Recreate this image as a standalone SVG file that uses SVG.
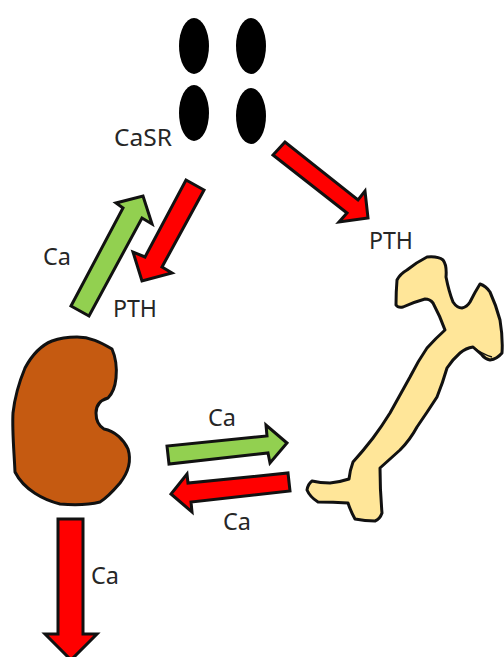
<svg xmlns="http://www.w3.org/2000/svg" width="504" height="657" viewBox="0 0 504 657">
<style>
.lbl{font-family:"Noto Sans",sans-serif;font-size:23px;fill:#262626}
.out{stroke:#111;stroke-width:3;stroke-linejoin:round;stroke-linecap:round}
.arrow{stroke:#111;stroke-width:3;stroke-linejoin:miter}
.red{fill:#ff0000}
.green{fill:#92d050}
.cell{fill:#000}
</style>
<rect width="504" height="657" fill="#fff"/>
<g id="parathyroid">
<ellipse class="cell" cx="194" cy="46" rx="15" ry="28"/>
<ellipse class="cell" cx="251" cy="46" rx="15" ry="28"/>
<ellipse class="cell" cx="194" cy="113" rx="15" ry="28"/>
<ellipse class="cell" cx="251" cy="116" rx="15" ry="28"/>
<text class="lbl" x="114" y="146" textLength="58" lengthAdjust="spacingAndGlyphs">CaSR</text>
</g>
<g id="kidney">
<path class="out" fill="#c55a11" d="M77 337C90 337 100 342 112 349C116 358 117 368 116 378C115 388 112 394 108 398C101 400 96 405 96 413C96 422 99 426 104 429C115 431 124 440 128 449C132 462 127 474 120 483C114 490 108 497 100 502C88 505 72 505 60 504C44 500 24 490 15 472C14 450 12 430 13 413C15 395 20 380 25 368C32 355 42 345 52 341C60 338 68 337 77 337Z"/>
</g>
<g id="bone">
<path class="out" fill="#ffe699" d="M427 257Q438 256 443 260Q447 265 446 277Q449 292 453 302Q457 308 462 308Q467 307 470 302Q475 292 480 284Q486 286 490 292Q496 305 500 320Q503 338 502 353Q497 359 490 360Q485 359 482 355L473 347Q466 348 460 353Q453 359 447 368Q443 382 437 397Q428 411 417 427Q410 440 400 450Q390 459 380 468Q380 490 382 513Q380 519 375 521Q365 521 355 519Q351 512 348 503Q333 502 318 502Q310 497 307 490Q308 484 312 481Q320 483 330 483Q340 482 349 479Q350 470 353 462Q363 451 373 438Q382 426 390 413Q400 395 410 377Q418 361 427 348Q436 338 445 330Q440 316 433 303Q430 299 425 299Q414 302 403 307Q398 308 396 305Q396 292 397 280Q400 274 407 270Q417 262 427 257Z"/>
<path fill="none" stroke="#111" stroke-width="1.4" d="M473 347Q482 354 492 357"/>
</g>
<g id="connectors">
<polygon class="arrow red" points="285,142 273,155 347,213 339,222 368,218 365,191 358,200"/>
<polygon class="arrow green" points="71,306 89,316 142,218 152,224 143,196 116,203 123,208"/>
<polygon class="arrow red" points="186,180 204,190 162,267 172,273 142,281 133,252 145,257"/>
<polygon class="arrow green" points="167,446 169,464 268,453 270,463 287,443 266,425 267,436"/>
<polygon class="arrow red" points="288,473 290,491 191,502 192,512 171,494 187,474 188,483"/>
<polygon class="arrow red" points="58,519 83,519 83,634 97,634 71,660 45,634 58,634"/>
</g>
<g id="labels">
<text class="lbl" x="369" y="249" textLength="44" lengthAdjust="spacingAndGlyphs">PTH</text>
<text class="lbl" x="43" y="265" textLength="28" lengthAdjust="spacingAndGlyphs">Ca</text>
<text class="lbl" x="113" y="317" textLength="44" lengthAdjust="spacingAndGlyphs">PTH</text>
<text class="lbl" x="208" y="426" textLength="28" lengthAdjust="spacingAndGlyphs">Ca</text>
<text class="lbl" x="223" y="530" textLength="28" lengthAdjust="spacingAndGlyphs">Ca</text>
<text class="lbl" x="91" y="584" textLength="28" lengthAdjust="spacingAndGlyphs">Ca</text>
</g>
</svg>
